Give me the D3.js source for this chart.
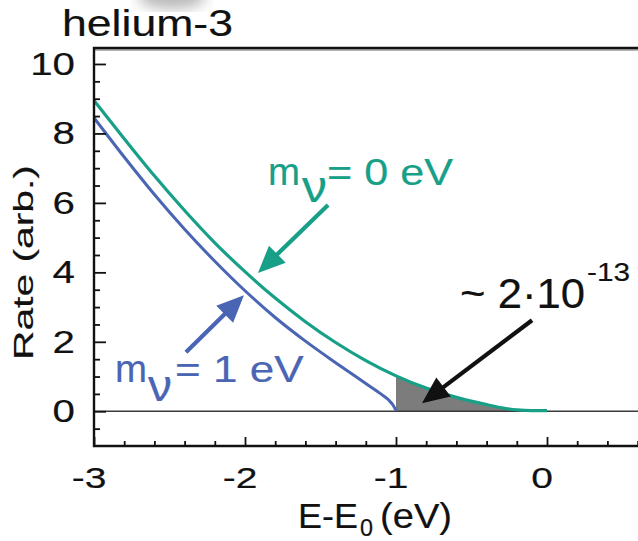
<!DOCTYPE html>
<html><head><meta charset="utf-8">
<script src="https://cdn.jsdelivr.net/npm/d3@7"></script>
<style>html,body{margin:0;padding:0;background:#fff;} svg{display:block;font-family:"Liberation Sans",Arial,Helvetica,sans-serif;}</style>
</head><body><svg id="c" width="638" height="541"></svg>
<script>
// ---- data ----
const energyMassless = [-3, -2.8, -2.6, -2.4, -2.2, -2.0, -1.8, -1.6, -1.4, -1.2, -1.0, -0.8, -0.6, -0.4, -0.3, -0.2, -0.1, 0];
const rateMassless   = [8.95, 7.85, 6.78, 5.78, 4.85, 4.02, 3.26, 2.58, 1.98, 1.46, 1.02, 0.67, 0.40, 0.19, 0.10, 0.04, 0.02, 0.02];
const energyMassive  = [-3, -2.8, -2.6, -2.4, -2.2, -2.0, -1.8, -1.6, -1.4, -1.2, -1.1, -1.05, -1.02, -1.0];
const rateMassive    = [8.45, 7.32, 6.24, 5.24, 4.32, 3.47, 2.70, 2.02, 1.40, 0.80, 0.50, 0.33, 0.18, 0.02];
const xMajorTicks = [-3, -2, -1, 0];
const xTickLabels = ["-3", "-2", "-1", "0"];
const xMinorTicks = [-2.8, -2.6, -2.4, -2.2, -1.8, -1.6, -1.4, -1.2, -0.8, -0.6, -0.4, -0.2, 0.2, 0.4, 0.6];
const yMajorTicks = [0, 2, 4, 6, 8, 10];
const yTickLabels = ["0", "2", "4", "6", "8", "10"];
const yMinorTicks = [-0.5, 0.5, 1, 1.5, 2.5, 3, 3.5, 4.5, 5, 5.5, 6.5, 7, 7.5, 8.5, 9, 9.5];
const titleText = "helium-3";
const yAxisTitle = "Rate (arb.)";
const shadedFrom = -1;

const colGreen = "#17a087", colBlue = "#4a65b4", colGray = "#7c7c7c";
const textStroke = 0.18;

const svg = d3.select("#c");
const defs = svg.append("defs");
defs.append("filter").attr("id","blur").append("feGaussianBlur").attr("stdDeviation",7);
svg.append("ellipse").attr("cx",172).attr("cy",-4).attr("rx",34).attr("ry",13)
  .attr("fill","#b8b8b8").attr("filter","url(#blur)");

const x = d3.scaleLinear().domain([-3, 0.7]).range([94, 94 + 151 * 3.7]);
const y = d3.scaleLinear().domain([-1, 10.46]).range([446, 48]);

// text helper: ink-left at (left, baseline), scaled horizontally to width
function fitText(str, left, baseline, width, fs, fill, rot) {
  const g = svg.append("g");
  const t = g.append("text").attr("x",0).attr("y",0).attr("font-size",fs).attr("fill",fill)
    .attr("stroke",fill).attr("stroke-width",textStroke).text(str);
  const bb = t.node().getBBox();
  const sx = width / bb.width;
  g.attr("transform", `translate(${left},${baseline})` + (rot ? ` rotate(${rot})` : "") + ` scale(${sx},1) translate(${-bb.x},0)`);
  return g;
}

// shaded area under massless curve beyond the massive endpoint
const shadeData = energyMassless.map((e,i)=>({e, r: rateMassless[i]})).filter(d => d.e >= shadedFrom);
svg.append("path").datum(shadeData)
  .attr("d", d3.area().x(d=>x(d.e)).y0(y(0)).y1(d=>y(d.r)).curve(d3.curveMonotoneX))
  .attr("fill", colGray);

// zero line
svg.append("line").attr("x1", x(-3)).attr("x2", 638).attr("y1", y(0)).attr("y2", y(0))
  .attr("stroke","#3a3a3a").attr("stroke-width",1.6);

// curves
const line = d3.line().x(d=>x(d.e)).y(d=>y(d.r)).curve(d3.curveMonotoneX);
svg.append("path").datum(energyMassive.map((e,i)=>({e, r: rateMassive[i]})))
  .attr("d", line).attr("fill","none").attr("stroke", colBlue).attr("stroke-width",3);
svg.append("path").datum(energyMassless.map((e,i)=>({e, r: rateMassless[i]})))
  .attr("d", line).attr("fill","none").attr("stroke", colGreen).attr("stroke-width",3.2);

// axes (ticks inside)
const axG = svg.append("g");
axG.append("g").attr("transform",`translate(0,${y(-1)})`)
  .call(d3.axisBottom(x).tickValues(xMajorTicks).tickSize(-9).tickFormat("").tickSizeOuter(0));
axG.append("g").attr("transform",`translate(0,${y(-1)})`)
  .call(d3.axisBottom(x).tickValues(xMinorTicks).tickSize(-5).tickFormat("").tickSizeOuter(0));
axG.append("g").attr("transform",`translate(${x(-3)},0)`)
  .call(d3.axisLeft(y).tickValues(yMajorTicks).tickSize(-12).tickFormat("").tickSizeOuter(0));
axG.append("g").attr("transform",`translate(${x(-3)},0)`)
  .call(d3.axisLeft(y).tickValues(yMinorTicks).tickSize(-6).tickFormat("").tickSizeOuter(0));
axG.selectAll(".domain").remove();
axG.selectAll(".tick line").attr("stroke","#111").attr("stroke-width",1.8);

// frame
svg.append("line").attr("x1",x(-3)).attr("x2",638).attr("y1",y(10.46)+2).attr("y2",y(10.46)+2).attr("stroke","#9a9a9a").attr("stroke-width",1.5);
svg.append("path").attr("d",`M638,${y(10.46)}H${x(-3)}V${y(-1)}H638`)
  .attr("fill","none").attr("stroke","#111").attr("stroke-width",2.4);

// tick labels
const sxTick = 1.3;
yMajorTicks.forEach((v,i)=>{
  svg.append("text").attr("transform",`translate(75,${y(v)+11}) scale(${sxTick},1)`)
    .attr("text-anchor","end").attr("font-size",31).attr("fill","#111")
    .attr("stroke","#111").attr("stroke-width",textStroke).text(yTickLabels[i]);
});
xMajorTicks.forEach((v,i)=>{
  svg.append("text").attr("transform",`translate(${x(v)-5},488) scale(${sxTick},1)`)
    .attr("text-anchor","middle").attr("font-size",30).attr("fill","#111")
    .attr("stroke","#111").attr("stroke-width",textStroke).text(xTickLabels[i]);
});

// titles
fitText(titleText, 62, 36, 171, 36, "#111");
fitText(yAxisTitle, 33, 360, 195, 28, "#111", -90);
fitText("E-E", 298, 528, 60, 35, "#111");
fitText("0", 360, 536, 13, 23, "#111");
fitText("(eV)", 380, 528, 72, 35, "#111");

// annotations (data coordinates)
const labelPieces = [
  {t:"m", e:-1.848, r:6.51, w:32, fs:38, c:colGreen},
  {t:"\u03BD", e:-1.623, r:6.03, w:25, fs:44, c:colGreen},
  {t:"= 0 eV", e:-1.457, r:6.51, w:126, fs:36, c:colGreen},
  {t:"m", e:-2.861, r:0.84, w:32, fs:38, c:colBlue},
  {t:"\u03BD", e:-2.642, r:0.31, w:24, fs:44, c:colBlue},
  {t:"= 1 eV", e:-2.464, r:0.84, w:129, fs:37, c:colBlue},
  {t:"~ 2\u00B710", e:-0.576, r:2.97, w:125, fs:42, c:"#111"},
  {t:"-13", e:0.265, r:3.75, w:43, fs:25, c:"#111"}
];
labelPieces.forEach(p => fitText(p.t, x(p.e), y(p.r), p.w, p.fs, p.c));

const arrows = [
  {e0:-1.450, r0:5.94, e1:-1.914, r1:3.98, c:colGreen},
  {e0:-2.391, r0:1.70, e1:-2.007, r1:3.34, c:colBlue},
  {e0:-0.099, r0:2.62, e1:-0.828, r1:0.23, c:"#111"}
];
arrows.forEach(a => {
  const x0 = x(a.e0), y0 = y(a.r0), x1 = x(a.e1), y1 = y(a.r1);
  const dx = x1-x0, dy = y1-y0, len = Math.hypot(dx,dy), ux = dx/len, uy = dy/len;
  const L = 27, hw = 12;
  const bx = x1 - ux*L, by = y1 - uy*L;
  svg.append("line").attr("x1",x0).attr("y1",y0).attr("x2",bx+ux*3).attr("y2",by+uy*3)
    .attr("stroke",a.c).attr("stroke-width",4.2);
  svg.append("path").attr("d",`M${x1},${y1}L${bx - uy*hw},${by + ux*hw}L${bx + uy*hw},${by - ux*hw}Z`)
    .attr("fill",a.c);
});
</script></body></html>
